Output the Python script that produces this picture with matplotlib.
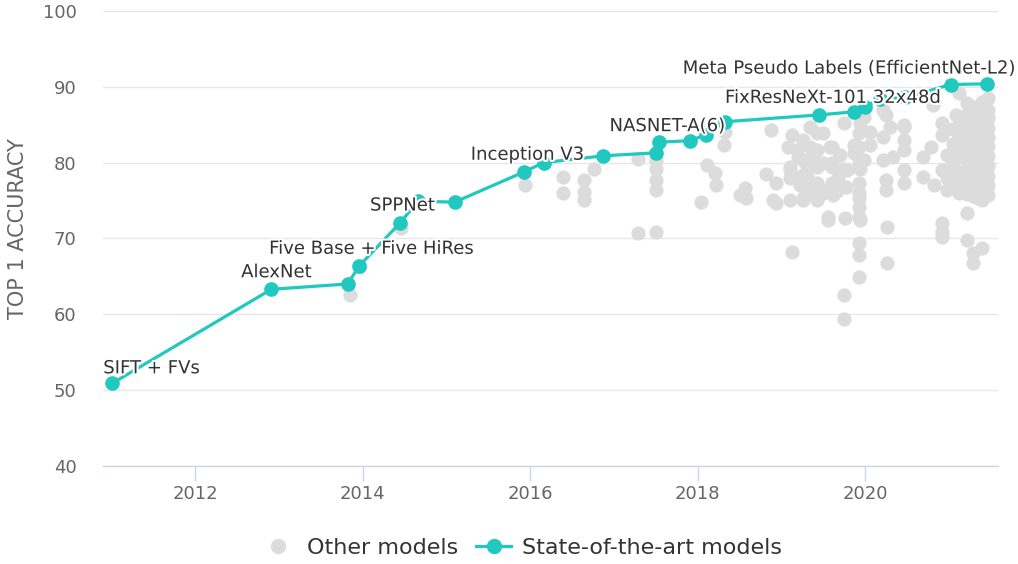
import matplotlib.pyplot as plt
import matplotlib.patheffects as pe
from matplotlib.lines import Line2D

# State-of-the-art models (year, top-1 accuracy)
sota_year = [2011.01, 2012.91, 2013.82, 2013.96, 2014.45, 2014.66, 2015.10, 2015.93, 2016.16,
             2016.87, 2017.50, 2017.54, 2017.91, 2018.10, 2018.33, 2019.45, 2019.86, 2020.00,
             2020.18, 2020.48, 2021.02, 2021.45]
sota_acc = [50.9, 63.3, 64.0, 66.4, 72.1, 74.9, 74.8, 78.8, 80.0,
            80.9, 81.3, 82.7, 82.9, 83.7, 85.4, 86.3, 86.7, 87.4,
            88.4, 88.6, 90.3, 90.4]

# labelled SOTA points: index into sota arrays, text, pixel offset, alignment
label_idx = [0, 1, 3, 4, 7, 11, 16, 20]
label_text = ["SIFT + FVs", "AlexNet", "Five Base + Five HiRes", "SPPNet", "Inception V3",
              "NASNET-A(6)", "FixResNeXt-101 32x48d", "Meta Pseudo Labels (EfficientNet-L2)"]
label_off = [(-9, 15), (5, 17), (12, 17), (2, 17), (3, 17), (8, 16), (-21, 14), (64, 16)]
label_ha = ["left", "center", "center", "center", "center", "center", "center", "right"]

# other models
other_year = [2013.85, 2013.97, 2014.46, 2015.94, 2016.16, 2016.39, 2016.39, 2016.64, 2016.64,
              2016.64, 2016.76, 2017.29, 2017.29, 2017.50, 2017.50, 2017.50, 2017.50, 2017.50,
              2018.11, 2018.21, 2018.22, 2018.04, 2018.31, 2018.33, 2018.87, 2018.81, 2018.93,
              2018.90, 2018.93, 2018.57, 2018.51, 2018.58, 2019.13,
              2019.13, 2019.08, 2019.19, 2019.34, 2019.42, 2019.26, 2019.34, 2019.42, 2019.60,
              2019.74, 2019.92, 2019.92, 2019.94, 2019.10, 2019.13, 2019.26, 2019.31, 2019.42,
              2019.60, 2019.60, 2019.74, 2019.92, 2019.77, 2019.10, 2019.10, 2019.26, 2019.42,
              2019.55, 2019.62, 2019.31, 2019.10, 2019.26, 2019.42, 2019.26, 2019.38, 2019.55,
              2019.55, 2019.76, 2019.74, 2019.74, 2019.49, 2019.49, 2019.49, 2019.60, 2019.58,
              2019.86, 2019.86, 2019.78,
              2019.20, 2019.30, 2019.22, 2019.36, 2019.68, 2019.66, 2019.70,
              2019.92, 2019.92, 2019.92, 2019.92, 2019.92, 2019.92, 2019.94, 2019.92, 2019.92,
              2019.94, 2019.98, 2020.06, 2020.06, 2019.98,
              2020.21, 2020.30, 2020.21, 2020.21, 2020.33, 2020.25, 2020.25, 2020.46, 2020.46,
              2020.46, 2020.46, 2020.46, 2020.46, 2020.26, 2020.26, 2020.25,
              2020.69, 2020.69, 2020.78, 2020.82, 2020.81, 2020.91, 2020.91, 2020.91, 2020.98,
              2020.92, 2020.92, 2020.92, 2020.98, 2020.98,
              2021.05, 2021.05, 2021.05, 2021.05, 2021.08, 2021.08,
              2021.12, 2021.12, 2021.12, 2021.12, 2021.12, 2021.12, 2021.15, 2021.15, 2021.15,
              2021.21, 2021.21, 2021.21, 2021.21, 2021.21, 2021.21, 2021.21, 2021.21, 2021.21,
              2021.21, 2021.21,
              2021.29, 2021.29, 2021.29, 2021.29, 2021.29, 2021.29, 2021.29, 2021.29, 2021.29,
              2021.29, 2021.29, 2021.29,
              2021.34, 2021.34, 2021.34, 2021.34, 2021.34, 2021.34,
              2021.39, 2021.39, 2021.39, 2021.39, 2021.39, 2021.39, 2021.39, 2021.39, 2021.39,
              2021.39, 2021.39, 2021.39,
              2021.46, 2021.46, 2021.46, 2021.46, 2021.46, 2021.46, 2021.46, 2021.46, 2021.46,
              2021.46, 2021.46]
other_acc = [62.6, 66.25, 71.4, 77.1, 79.9, 78.1, 76.0, 77.7, 76.1,
             75.1, 79.2, 80.5, 70.7, 80.4, 79.1, 77.7, 76.4, 70.9,
             79.7, 78.65, 77.1, 74.8, 82.35, 84.0, 84.3, 78.5, 77.3,
             75.1, 74.7, 76.7, 75.75, 75.4, 68.2,
             83.7, 82.1, 81.7, 84.7, 83.9, 83.0, 82.1, 81.7, 82.1,
             85.25, 83.9, 82.1, 85.25, 79.4, 78.1, 80.4, 78.1, 79.4,
             80.0, 77.3, 79.1, 80.0, 76.8, 79.05, 78.0, 78.4, 77.3,
             76.4, 75.75, 76.4, 75.1, 75.1, 75.1, 75.4, 76.0, 72.45,
             72.8, 72.7, 62.6, 59.4, 83.9, 80.0, 76.0, 79.4, 82.1,
             82.35, 81.3, 79.05,
             80.8, 79.6, 77.0, 80.9, 78.0, 76.3, 81.0,
             75.4, 74.2, 72.8, 69.4, 67.8, 64.9, 72.45, 77.3, 76.0,
             79.1, 80.4, 84.1, 82.35, 86.0,
             87.0, 84.7, 83.4, 80.4, 80.8, 77.7, 76.4, 77.3, 79.05,
             81.7, 83.0, 85.0, 84.7, 71.5, 66.8, 86.3,
             80.8, 78.1, 82.0, 77.1, 87.6, 85.25, 83.6, 79.05, 76.4,
             72.0, 70.9, 70.2, 81.0, 78.0,
             84.5, 82.5, 80.0, 77.5, 86.3, 79.0,
             89.2, 86.0, 83.5, 81.0, 78.7, 76.0, 84.8, 82.2, 77.4,
             87.9, 86.4, 85.0, 83.2, 82.0, 80.3, 79.1, 77.6, 75.9,
             73.4, 69.8,
             87.4, 86.2, 84.8, 83.6, 82.4, 81.1, 79.9, 78.6, 77.2,
             75.6, 68.1, 66.8,
             86.8, 84.1, 81.6, 79.3, 76.8, 75.3,
             88.0, 86.9, 85.7, 84.5, 83.1, 81.9, 80.6, 79.2, 77.9,
             76.5, 75.1, 68.8,
             88.5, 87.0, 85.9, 84.6, 83.4, 82.2, 80.9, 79.6, 78.3,
             77.0, 75.7]

teal = '#20c8c0'
grey = '#dcdcdc'

fig = plt.figure(figsize=(10.18, 5.64), dpi=100)
ax = fig.add_axes([0.1012, 0.1738, 0.8792, 0.8067])

ax.scatter(other_year, other_acc, s=105, color=grey, linewidths=0, zorder=2)
ax.plot(sota_year, sota_acc, '-o', color=teal, lw=2.3, ms=9.5, zorder=3)

for i, txt, off, ha in zip(label_idx, label_text, label_off, label_ha):
    ax.annotate(txt, (sota_year[i], sota_acc[i]), xytext=off, textcoords='offset pixels',
                ha=ha, va='center', fontsize=13, color='#333333', zorder=5,
                annotation_clip=False,
                path_effects=[pe.withStroke(linewidth=3, foreground='white')])

ax.set_xlim(2010.9, 2021.585)
ax.set_ylim(40, 100)
ax.set_xticks([2012, 2014, 2016, 2018, 2020])
ax.set_yticks([40, 50, 60, 70, 80, 90, 100])
ax.tick_params(axis='x', length=10.8, width=1, color='#ccd6eb', labelsize=13,
               labelcolor='#666666', pad=3)
ax.tick_params(axis='y', length=0, labelsize=13, labelcolor='#666666', pad=19)

ax.yaxis.grid(True, color='#e6e6e6', lw=1)
ax.set_axisbelow(True)
for s in ['top', 'right', 'left']:
    ax.spines[s].set_visible(False)
ax.spines['bottom'].set_color('#ccd6eb')
ax.spines['bottom'].set_linewidth(1)

ax.set_ylabel('TOP 1 ACCURACY', fontsize=15, color='#666666')
ax.yaxis.set_label_coords(-0.084, 0.521)

handles = [Line2D([], [], ls='none', marker='o', ms=10, color=grey),
           Line2D([], [], ls='-', marker='o', ms=10, lw=2.3, color=teal)]
fig.legend(handles, ['Other models', 'State-of-the-art models'], loc='center',
           bbox_to_anchor=(0.512, 0.028), ncol=2, frameon=False, fontsize=16,
           labelcolor='#333333', handlelength=1.6, handletextpad=0.5, columnspacing=0.8)

fig.savefig('out.png', dpi=100)
